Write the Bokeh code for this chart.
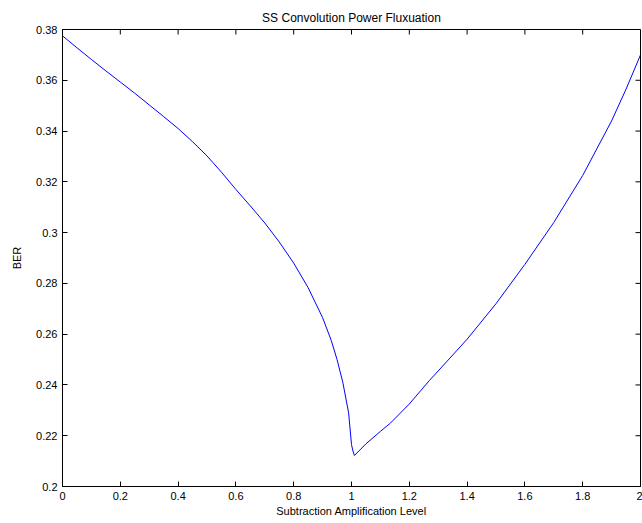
import math
from bokeh.plotting import figure
from bokeh.models import FixedTicker, CustomJSTickFormatter, Range1d
from bokeh.embed import file_html
from bokeh.resources import INLINE

# Data
amplification = [0.0, 0.05, 0.1, 0.15, 0.2, 0.25, 0.3, 0.35, 0.4, 0.45, 0.5, 0.55,
                 0.6, 0.65, 0.7, 0.75, 0.8, 0.85, 0.9, 0.93, 0.95, 0.97, 0.99, 1.0,
                 1.005, 1.01, 1.05, 1.1, 1.135, 1.2, 1.27, 1.3, 1.4, 1.5, 1.6, 1.7,
                 1.8, 1.9, 1.95, 2.0]
ber = [0.3775, 0.3728, 0.3682, 0.3637, 0.3593, 0.3549, 0.3503, 0.3457, 0.3410,
       0.3358, 0.3302, 0.3238, 0.3170, 0.3105, 0.3038, 0.2963, 0.2880, 0.2783,
       0.2665, 0.2575, 0.2500, 0.2410, 0.2290, 0.2165, 0.2140, 0.2122, 0.2168,
       0.2217, 0.2250, 0.2325, 0.2418, 0.2455, 0.2580, 0.2720, 0.2875, 0.3040,
       0.3225, 0.3440, 0.3565, 0.3700]

x_ticks = [0, 0.2, 0.4, 0.6, 0.8, 1.0, 1.2, 1.4, 1.6, 1.8, 2.0]
y_ticks = [0.2, 0.22, 0.24, 0.26, 0.28, 0.3, 0.32, 0.34, 0.36, 0.38]

title_text = "SS Convolution Power Fluxuation"
x_label = "Subtraction Amplification Level"
y_label = "BER"

FONT = "Liberation Sans"
X_MIN, X_MAX = 0, 2
Y_MIN, Y_MAX = 0.2, 0.38

p = figure(width=642, height=523, output_backend="svg", toolbar_location=None,
           x_range=Range1d(X_MIN, X_MAX), y_range=Range1d(Y_MIN, Y_MAX),
           min_border_left=62, min_border_right=2, min_border_top=29,
           min_border_bottom=37, title=title_text)

p.title.align = "center"
p.title.text_font = FONT
p.title.text_font_size = "12px"
p.title.text_font_style = "normal"
p.title.text_color = "black"

p.xgrid.visible = False
p.ygrid.visible = False
p.outline_line_color = "black"
p.outline_line_width = 1
p.background_fill_color = "white"
p.border_fill_color = "white"

fmt_code = "var s = tick.toFixed(2); s = s.replace(/0+$/, ''); s = s.replace(/\\.$/, ''); return s;"

xa = p.xaxis[0]
ya = p.yaxis[0]
xa.ticker = FixedTicker(ticks=x_ticks)
ya.ticker = FixedTicker(ticks=y_ticks)
xa.formatter = CustomJSTickFormatter(code=fmt_code)
ya.formatter = CustomJSTickFormatter(code=fmt_code)
xa.axis_label = x_label
ya.axis_label = y_label

for ax in (xa, ya):
    ax.major_tick_in = 5
    ax.major_tick_out = 0
    ax.minor_tick_in = 0
    ax.minor_tick_out = 0
    ax.axis_line_color = "black"
    ax.major_tick_line_color = "black"
    ax.major_label_text_font = FONT
    ax.major_label_text_font_size = "11px"
    ax.major_label_text_color = "black"
    ax.axis_label_text_font = FONT
    ax.axis_label_text_font_size = "11px"
    ax.axis_label_text_font_style = "normal"
    ax.axis_label_text_color = "black"

xa.major_label_standoff = 5
xa.axis_label_standoff = 2
ya.major_label_standoff = 5
ya.axis_label_standoff = 10

# Inward ticks on the top and right edges of the box (MATLAB style)
p.ray(x=x_ticks, y=[Y_MAX] * len(x_ticks), length=5, length_units="screen",
      angle=-math.pi / 2, line_color="black", line_width=1)
p.ray(x=[X_MAX] * len(y_ticks), y=y_ticks, length=5, length_units="screen",
      angle=math.pi, line_color="black", line_width=1)

p.line(amplification, ber, line_color="#0000ff", line_width=1)

open("out.html", "w").write(file_html(p, INLINE))
